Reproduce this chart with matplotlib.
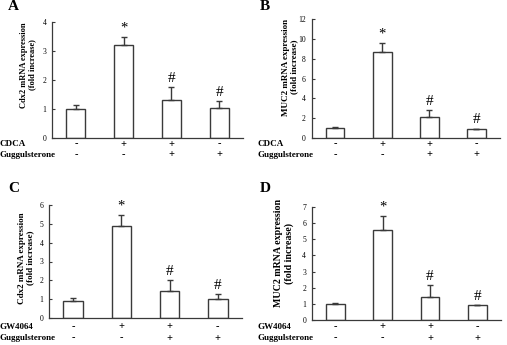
import matplotlib
matplotlib.use("Agg")
import matplotlib.pyplot as plt

W, H = 507, 345

# Data
a_vals = [1.0, 3.2, 1.3, 1.02]
a_err = [0.13, 0.28, 0.45, 0.25]
b_vals = [1.05, 8.7, 2.15, 0.9]
b_err = [0.1, 0.9, 0.7, 0.05]
c_vals = [0.92, 4.9, 1.45, 1.02]
c_err = [0.13, 0.58, 0.55, 0.23]
d_vals = [1.0, 5.55, 1.42, 0.9]
d_err = [0.06, 0.9, 0.72, 0.03]

marks = ["", "*", "#", "#"]
row1_signs = ["-", "+", "+", "-"]
row2_signs = ["-", "-", "+", "+"]

a_ticks = [0, 1, 2, 3, 4]
b_ticks = [0, 2, 4, 6, 8, 10, 12]
c_ticks = [0, 1, 2, 3, 4, 5, 6]
d_ticks = [0, 1, 2, 3, 4, 5, 6, 7]

SERIF = ["Liberation Serif", "DejaVu Serif"]
EDGE = "#3a3a3a"

fig = plt.figure(figsize=(W / 100, H / 100), dpi=100)
fig.patch.set_facecolor("white")


def px_axes(l, r, t, b):
    return fig.add_axes([l / W, 1 - b / H, (r - l) / W, (b - t) / H])


panels = [
    dict(letter="A", vals=a_vals, err=a_err, ticks=a_ticks, box=(52, 243, 22, 138),
         ylab="Cdx2 mRNA expression\n(fold increase)", ylx=28, yly=65, ylfs=6.0,
         row1="CDCA", rowx=0, r1y=144, r2y=155, lx=13, ly=7),
    dict(letter="B", vals=b_vals, err=b_err, ticks=b_ticks, box=(311.5, 500, 19, 138),
         ylab="MUC2 mRNA expression\n(fold increase)", ylx=290, yly=67, ylfs=6.5,
         row1="CDCA", rowx=258, r1y=144, r2y=155, lx=265, ly=6),
    dict(letter="C", vals=c_vals, err=c_err, ticks=c_ticks, box=(49, 242, 205, 318),
         ylab="Cdx2 mRNA expression\n(fold increase)", ylx=26, yly=258, ylfs=6.5,
         row1="GW4064", rowx=0, r1y=327, r2y=338, lx=14, ly=188),
    dict(letter="D", vals=d_vals, err=d_err, ticks=d_ticks, box=(311.7, 501, 207, 320),
         ylab="MUC2 mRNA expression\n(fold increase)", ylx=284, yly=253, ylfs=7.2,
         row1="GW4064", rowx=258, r1y=327, r2y=338, lx=265, ly=188),
]

x = [0, 1, 2, 3]
for p in panels:
    l, r, t, b = p["box"]
    ax = px_axes(l, r, t, b)
    ax.bar(x, p["vals"], width=0.4, color="white", edgecolor=EDGE, linewidth=1.0, zorder=2)
    ax.errorbar(x, p["vals"], yerr=[[0] * 4, p["err"]], fmt="none", ecolor=EDGE,
                elinewidth=1.0, capsize=2, capthick=1.0, zorder=3)
    for xi, v, e, m in zip(x, p["vals"], p["err"], marks):
        if m:
            ax.annotate(m, (xi, v + e), xytext=(0, 1.5), textcoords="offset points",
                        ha="center", va="bottom", fontsize=11 if m == "#" else 10.5,
                        family=SERIF, color="black")
    ax.set_xlim(-0.5, 3.5)
    ax.set_ylim(0, p["ticks"][-1])
    ax.set_yticks(p["ticks"])
    ax.set_yticklabels([str(v) for v in p["ticks"]], family=SERIF, fontsize=5.5)
    ax.set_xticks([])
    ax.tick_params(axis="y", direction="in", length=2.5, width=0.8, color=EDGE, pad=4)
    for s in ["top", "right"]:
        ax.spines[s].set_visible(False)
    for s in ["left", "bottom"]:
        ax.spines[s].set_color(EDGE)
        ax.spines[s].set_linewidth(0.9)
    ax.set_facecolor("none")

    # labels
    fig.text(p["lx"] / W, 1 - p["ly"] / H, p["letter"], family=SERIF, fontweight="bold",
             fontsize=11, ha="center", va="center")
    fig.text(p["ylx"] / W, 1 - p["yly"] / H, p["ylab"], family=SERIF, fontweight="bold",
             fontsize=p["ylfs"], rotation=90, ha="center", va="center",
             multialignment="center", linespacing=1.1)
    fig.text(p["rowx"] / W, 1 - p["r1y"] / H, p["row1"], family=SERIF, fontweight="bold",
             fontsize=6.5, ha="left", va="center")
    fig.text(p["rowx"] / W, 1 - p["r2y"] / H, "Guggulsterone", family=SERIF,
             fontweight="bold", fontsize=6.5, ha="left", va="center")
    for xi, s1, s2 in zip(x, row1_signs, row2_signs):
        xd = ax.transData.transform((xi, 0))[0]
        xf = fig.transFigure.inverted().transform((xd, 0))[0]
        fig.text(xf, 1 - p["r1y"] / H, s1, family=SERIF, fontweight="bold", fontsize=7.5,
                 ha="center", va="center")
        fig.text(xf, 1 - p["r2y"] / H, s2, family=SERIF, fontweight="bold", fontsize=7.5,
                 ha="center", va="center")

fig.savefig("out.png", dpi=100, facecolor="white")
